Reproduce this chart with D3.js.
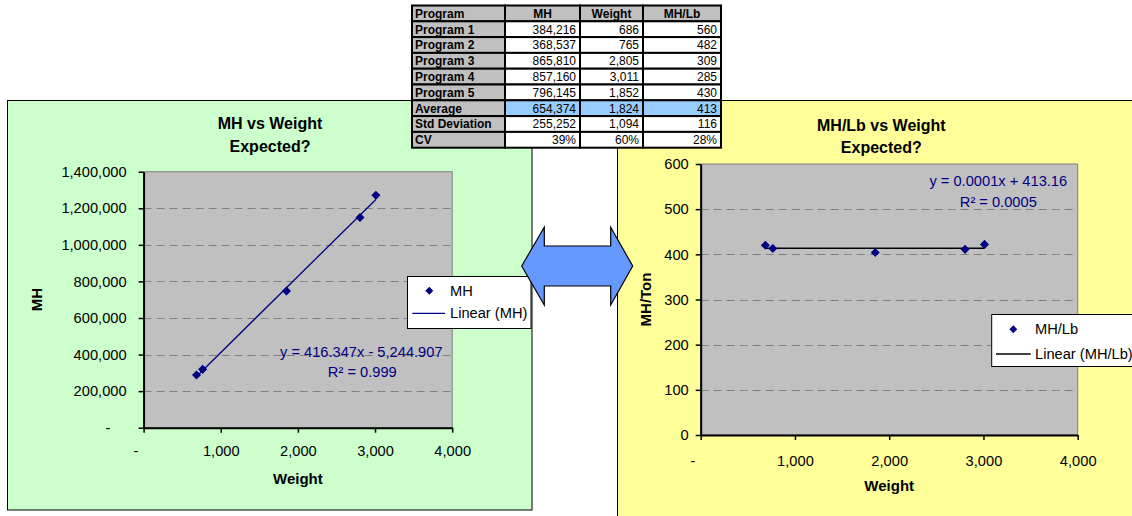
<!DOCTYPE html>
<html>
<head>
<meta charset="utf-8">
<script src="https://cdn.jsdelivr.net/npm/d3@7"></script>
<style>
  html, body { margin: 0; padding: 0; background: #ffffff; }
  svg { display: block; font-family: "Liberation Sans", Arial, Helvetica, sans-serif; }
</style>
</head>
<body>
<svg id="sheet" width="1132" height="516"></svg>
<script>
// ---------- summary table ----------
const tableColumns = ["Program", "MH", "Weight", "MH/Lb"];
const programs = ["Program 1", "Program 2", "Program 3", "Program 4", "Program 5"];
const programMH = [384216, 368537, 865810, 857160, 796145];
const programWeight = [686, 765, 2805, 3011, 1852];
const programMHPerLb = [560, 482, 309, 285, 430];
const summaryLabels = ["Average", "Std Deviation", "CV"];
const averageRow = [654374, 1824, 413];
const stdDevRow = [255252, 1094, 116];
const cvRow = [0.39, 0.60, 0.28];

// ---------- plotted series ----------
const plotWeight = [686, 765, 1852, 2805, 3011];
const plotMH = [288000, 319000, 748000, 1149000, 1271000];
const plotMHPerLb = [420, 413, 404, 411, 422];

// ---------- fitted trend lines ----------
const mhTrend = { slope: 416.347, intercept: -5244.907, r2: 0.999 };
const rateTrend = { slope: 0.0001, intercept: 413.16, r2: 0.0005 };

// ---------- axis ticks ----------
const weightTicks = [0, 1000, 2000, 3000, 4000];
const mhTicks = [0, 200000, 400000, 600000, 800000, 1000000, 1200000, 1400000];
const rateTicks = [0, 100, 200, 300, 400, 500, 600];

const svg = d3.select("#sheet");
const NAVY = "#000080";
const FONT_TICK = 14.67;
const comma = d3.format(",");
// accounting style: zero shown as a dash padded on the right
const dashZero = d => d === 0 ? "-\u00a0\u00a0\u00a0\u00a0" : comma(d);

// ---------- panels ----------
svg.append("rect").attr("x", 7.5).attr("y", 100.5).attr("width", 524.5).attr("height", 409.5)
  .attr("fill", "#CCFFCC").attr("stroke", "#000").attr("stroke-width", 1);
svg.append("rect").attr("x", 617.5).attr("y", 100.5).attr("width", 530).attr("height", 430)
  .attr("fill", "#FFFF99").attr("stroke", "#000").attr("stroke-width", 1);

function diamond(sel, cx, cy, side) {
  sel.append("path")
    .attr("d", d3.symbol().type(d3.symbolSquare).size(side * side)())
    .attr("transform", `translate(${cx},${cy}) rotate(45)`)
    .attr("fill", NAVY);
}

function drawChart(cfg) {
  const g = svg.append("g");
  const x = d3.scaleLinear().domain([0, 4000]).range([cfg.plot.left, cfg.plot.right]);
  const y = d3.scaleLinear().domain(cfg.yDomain).range([cfg.plot.bottom, cfg.plot.top]);

  // plot area
  g.append("rect")
    .attr("x", cfg.plot.left).attr("y", cfg.plot.top)
    .attr("width", cfg.plot.right - cfg.plot.left).attr("height", cfg.plot.bottom - cfg.plot.top)
    .attr("fill", "#C0C0C0").attr("stroke", "#808080").attr("stroke-width", 1);

  // dashed gridlines
  g.append("g").selectAll("line")
    .data(cfg.yTicks.filter(t => t > cfg.yDomain[0] && t < cfg.yDomain[1]))
    .join("line")
    .attr("x1", cfg.plot.left).attr("x2", cfg.plot.right)
    .attr("y1", d => Math.round(y(d)) + 0.5).attr("y2", d => Math.round(y(d)) + 0.5)
    .attr("stroke", "#808080").attr("stroke-width", 1).attr("stroke-dasharray", "8,5");

  // axes
  const yAxis = d3.axisLeft(y).tickValues(cfg.yTicks).tickFormat(cfg.yFormat)
    .tickSizeInner(5).tickSizeOuter(0).tickPadding(cfg.yPad);
  const xAxis = d3.axisBottom(x).tickValues(weightTicks).tickFormat(dashZero)
    .tickSizeInner(5).tickSizeOuter(0).tickPadding(cfg.xPad);
  const ya = g.append("g").attr("transform", `translate(${cfg.plot.left},0)`).call(yAxis);
  const xa = g.append("g").attr("transform", `translate(0,${cfg.plot.bottom})`).call(xAxis);
  [ya, xa].forEach(a => {
    a.select(".domain").attr("stroke", "#000").attr("stroke-width", 2);
    a.selectAll(".tick line").attr("stroke", "#000").attr("stroke-width", 1.5);
    a.selectAll(".tick text").attr("fill", "#000")
      .attr("font-size", FONT_TICK).attr("font-family", "Liberation Sans, Arial, sans-serif");
  });

  // trend line across the data range
  const [xmin, xmax] = d3.extent(cfg.xs);
  const trendY = v => cfg.trend.slope * v + cfg.trend.intercept;
  g.append("line")
    .attr("x1", x(xmin)).attr("y1", y(trendY(xmin)))
    .attr("x2", x(xmax)).attr("y2", y(trendY(xmax)))
    .attr("stroke", cfg.lineColor).attr("stroke-width", cfg.lineWidth);

  // points
  cfg.xs.forEach((v, i) => diamond(g, x(v), y(cfg.ys[i]), 6.4));

  // titles
  const title = g.append("text").attr("text-anchor", "middle")
    .attr("font-size", 16).attr("font-weight", "bold").attr("fill", "#000");
  cfg.title.forEach((t, i) => {
    title.append("tspan").attr("x", cfg.titleX).attr("y", cfg.titleY[i] + 5.6).text(t);
  });
  g.append("text").attr("x", (cfg.plot.left + cfg.plot.right) / 2).attr("y", cfg.xTitleY + 5.3)
    .attr("text-anchor", "middle").attr("font-size", 15).attr("font-weight", "bold").text("Weight");
  g.append("text")
    .attr("transform", `translate(${cfg.yTitleX + 5.3},${(cfg.plot.top + cfg.plot.bottom) / 2}) rotate(-90)`)
    .attr("text-anchor", "middle").attr("font-size", 15).attr("font-weight", "bold").text(cfg.yTitle);

  // trend equation
  const eq = g.append("text").attr("text-anchor", "middle")
    .attr("font-size", FONT_TICK).attr("fill", NAVY);
  eq.append("tspan").attr("x", cfg.eq[0][0]).attr("y", cfg.eq[0][1] + 5.1).text(cfg.eqText);
  eq.append("tspan").attr("x", cfg.eq[1][0]).attr("y", cfg.eq[1][1] + 5.1).text(cfg.r2Text);

  // legend
  const L = cfg.legend;
  const lg = g.append("g");
  lg.append("rect").attr("x", L.x0).attr("y", L.y0).attr("width", L.x1 - L.x0).attr("height", L.y1 - L.y0)
    .attr("fill", "#fff").attr("stroke", "#000").attr("stroke-width", 1);
  diamond(lg, L.markX, L.row1, 5.6);
  lg.append("line").attr("x1", L.lineX0).attr("x2", L.lineX1).attr("y1", L.row2).attr("y2", L.row2)
    .attr("stroke", cfg.lineColor).attr("stroke-width", 1.3);
  lg.append("text").attr("x", L.textX).attr("y", L.row1 + 5.1).attr("font-size", FONT_TICK).text(cfg.seriesName);
  lg.append("text").attr("x", L.textX).attr("y", L.row2 + 5.1).attr("font-size", FONT_TICK)
    .text(`Linear (${cfg.seriesName})`);
}

// MH against weight
drawChart({
  plot: { left: 143.6, right: 452.2, top: 171.7, bottom: 427.7 },
  yDomain: [0, 1400000], yTicks: mhTicks, yFormat: dashZero, yPad: 12, xPad: 13,
  xs: plotWeight, ys: plotMH, trend: mhTrend, lineColor: NAVY, lineWidth: 1.3,
  title: ["MH vs Weight", "Expected?"], titleX: 270, titleY: [123.3, 146.7],
  xTitleY: 479, yTitleX: 36.2, yTitle: "MH",
  eq: [[361.3, 351.7], [362.3, 372.3]],
  eqText: `y = ${d3.format(",.3f")(mhTrend.slope)}x - ${d3.format(",.3f")(-mhTrend.intercept)}`,
  r2Text: `R\u00b2 = ${d3.format(".3f")(mhTrend.r2)}`,
  seriesName: "MH",
  legend: { x0: 407.5, y0: 276.5, x1: 531, y1: 328.5, markX: 429.3, row1: 290.7,
            lineX0: 412.3, lineX1: 445, row2: 313.3, textX: 450 }
});

// MH per pound against weight
drawChart({
  plot: { left: 700.7, right: 1077.7, top: 164, bottom: 435 },
  yDomain: [0, 600], yTicks: rateTicks, yFormat: d3.format("d"), yPad: 7, xPad: 16,
  xs: plotWeight, ys: plotMHPerLb, trend: rateTrend, lineColor: "#000", lineWidth: 1.5,
  title: ["MH/Lb vs Weight", "Expected?"], titleX: 881.3, titleY: [125, 147.7],
  xTitleY: 485.7, yTitleX: 645.7, yTitle: "MH/Ton",
  eq: [[998.3, 181], [998.3, 201.7]],
  eqText: `y = ${d3.format(".4f")(rateTrend.slope)}x + ${d3.format(",.2f")(rateTrend.intercept)}`,
  r2Text: `R\u00b2 = ${d3.format(".4f")(rateTrend.r2)}`,
  seriesName: "MH/Lb",
  legend: { x0: 991.7, y0: 314.5, x1: 1136, y1: 366.5, markX: 1013.3, row1: 329.3,
            lineX0: 996, lineX1: 1030.7, row2: 354, textX: 1035 }
});

// ---------- double arrow between the charts ----------
const arrowPts = [[521.7, 266], [544.3, 227.3], [544.3, 246], [610.7, 246], [610.7, 227.3],
                  [632.7, 266], [610.7, 305], [610.7, 286], [544.3, 286], [544.3, 305]];
svg.append("path").attr("d", d3.line()(arrowPts) + "Z")
  .attr("fill", "#6699FF").attr("stroke", "#000").attr("stroke-width", 1.2)
  .attr("stroke-linejoin", "miter");

// ---------- table ----------
const colEdges = [412, 505, 580, 643, 721];
const rowTop = 5.5, rowH = 15.8;
const pct = d3.format(".0%");
const rows = [
  { label: tableColumns[0], cells: tableColumns.slice(1), header: true },
  ...programs.map((p, i) => ({ label: p, cells: [comma(programMH[i]), comma(programWeight[i]), comma(programMHPerLb[i])] })),
  { label: summaryLabels[0], cells: averageRow.map(comma), fill: "#99CCFF" },
  { label: summaryLabels[1], cells: stdDevRow.map(comma) },
  { label: summaryLabels[2], cells: cvRow.map(pct) }
];
const tbl = svg.append("g").attr("font-size", 12);
rows.forEach((r, ri) => {
  const top = rowTop + ri * rowH;
  for (let c = 0; c < 4; c++) {
    const fill = (c === 0 || r.header) ? "#C0C0C0" : (r.fill || "#FFFFFF");
    tbl.append("rect").attr("x", colEdges[c]).attr("y", top)
      .attr("width", colEdges[c + 1] - colEdges[c]).attr("height", rowH)
      .attr("fill", fill).attr("stroke", "#000").attr("stroke-width", 2);
  }
  tbl.append("text").attr("x", colEdges[0] + 3).attr("y", top + 12.2)
    .attr("font-weight", "bold").text(r.label);
  r.cells.forEach((v, c) => {
    const t = tbl.append("text").attr("y", top + 12.2).text(v);
    if (r.header) {
      t.attr("x", (colEdges[c + 1] + colEdges[c + 2]) / 2).attr("text-anchor", "middle").attr("font-weight", "bold");
    } else {
      t.attr("x", colEdges[c + 2] - 4).attr("text-anchor", "end");
    }
  });
});
</script>
</body>
</html>
